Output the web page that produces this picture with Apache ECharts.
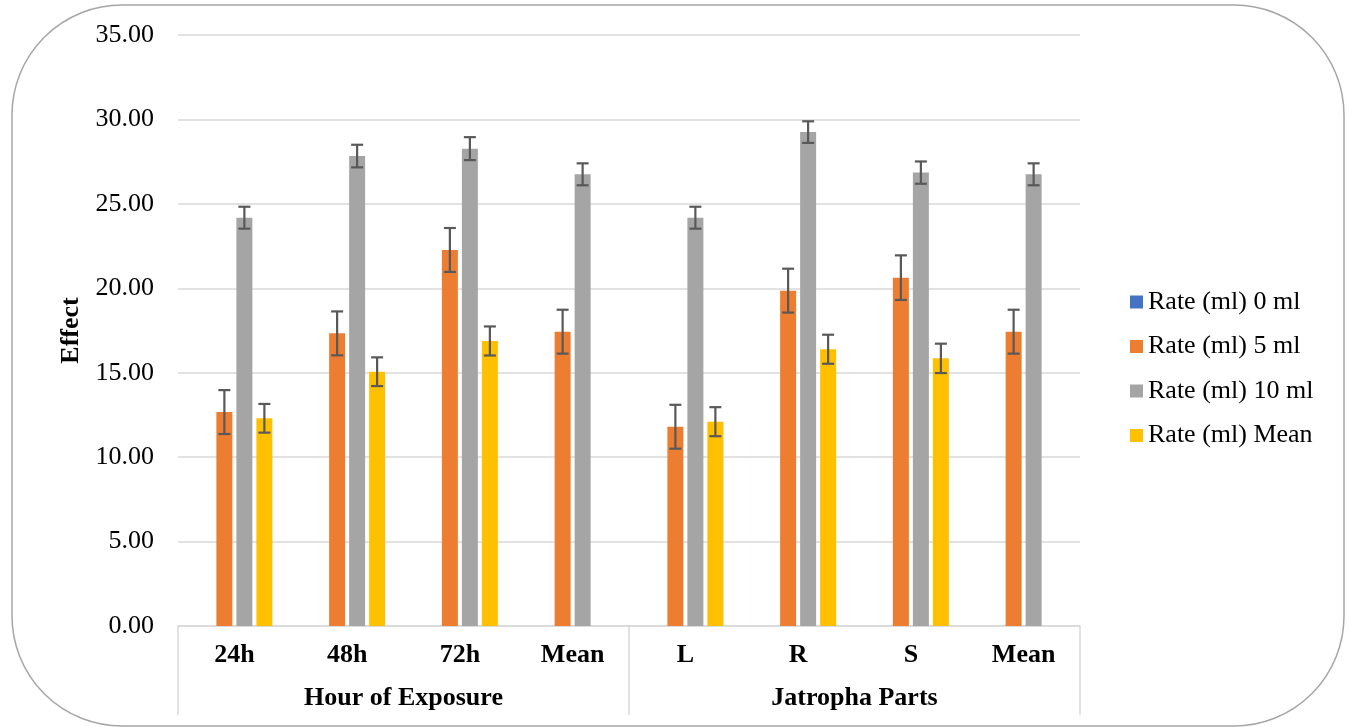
<!DOCTYPE html>
<html>
<head>
<meta charset="utf-8">
<script src="https://cdn.jsdelivr.net/npm/echarts@6/dist/echarts.min.js"></script>
<style>
html,body{margin:0;padding:0;background:#fff;}
#chart{width:1349px;height:727px;}
</style>
</head>
<body>
<div id="chart"></div>
<script>
const categories = ['24h','48h','72h','Mean','L','R','S','Mean'];
const groupLabels = ['Hour of Exposure','Jatropha Parts'];
const seriesNames = ['Rate (ml) 0 ml','Rate (ml) 5 ml','Rate (ml) 10 ml','Rate (ml) Mean'];
const rate0 = [0,0,0,0,0,0,0,0];
const rate5 = [12.67,17.33,22.27,17.43,11.80,19.86,20.63,17.43];
const rate10 = [24.18,27.83,28.27,26.75,24.18,29.25,26.85,26.75];
const rateMean = [12.30,15.06,16.88,null,12.10,16.39,15.85,null];
const err5 = [1.3,1.3,1.3,1.3,1.3,1.3,1.32,1.3];
const err10 = [0.65,0.67,0.68,0.65,0.65,0.64,0.66,0.65];
const errMean = [0.85,0.85,0.86,null,0.86,0.86,0.87,null];
const yTicks = [0,5,10,15,20,25,30,35];

const colors = ['#4472C4','#ED7D31','#A5A5A5','#FFC000'];
const FONT = '"Liberation Serif","Times New Roman",serif';
const BAR_W = 16, BAR_GAP = 4;

function errSeries(vals, errs, seriesIdx){
  const data = vals.map((v,i)=> v==null ? null : [i, v, errs[i]]).filter(d=>d);
  return {
    type:'custom',
    xAxisIndex:0, yAxisIndex:0,
    silent:true, z:10,
    data: data,
    encode:{x:0,y:1},
    renderItem: function(params, api){
      const i = api.value(0), v = api.value(1), e = api.value(2);
      const c = api.coord([i, v]);
      const total = 4*BAR_W + 3*BAR_GAP;
      const x = c[0] - total/2 + seriesIdx*(BAR_W+BAR_GAP) + BAR_W/2;
      const top = api.coord([i, v+e])[1];
      const bot = api.coord([i, v-e])[1];
      const hw = 6;
      const st = {stroke:'#595959', lineWidth:2.2};
      return {type:'group', children:[
        {type:'line', shape:{x1:x,y1:top,x2:x,y2:bot}, style:st},
        {type:'line', shape:{x1:x-hw,y1:top,x2:x+hw,y2:top}, style:st},
        {type:'line', shape:{x1:x-hw,y1:bot,x2:x+hw,y2:bot}, style:st}
      ]};
    }
  };
}

const chart = echarts.init(document.getElementById('chart'));
const option = {
  backgroundColor:'#fff',
  animation:false,
  color: colors,
  textStyle:{fontFamily:FONT},
  graphic:[{
    type:'rect', z:-1,
    shape:{x:12,y:5,width:1332,height:721,r:110},
    style:{fill:'#fff', stroke:'#a6a6a6', lineWidth:1.5}
  }],
  grid:{left:178, right:269, top:35, bottom:101, containLabel:false},
  legend:{
    orient:'vertical', left:1125, top:284,
    itemWidth:13, itemHeight:13, itemGap:18.5,
    icon:'rect',
    data: seriesNames,
    textStyle:{fontFamily:FONT, fontSize:26, color:'#000', lineHeight:26}
  },
  xAxis:[{
    type:'category', data:categories, position:'bottom',
    axisLine:{show:true, lineStyle:{color:'#d9d9d9', width:1.5}},
    axisTick:{show:false},
    axisLabel:{margin:16, fontFamily:FONT, fontSize:26, fontWeight:'bold', color:'#000'},
    splitLine:{show:false}
  },{
    type:'category', data:groupLabels, position:'bottom',
    axisLine:{show:false},
    axisTick:{show:true, length:89, interval:0, lineStyle:{color:'#d9d9d9', width:1.5}},
    axisLabel:{margin:59, fontFamily:FONT, fontSize:26, fontWeight:'bold', color:'#000'},
    splitLine:{show:false}
  }],
  yAxis:{
    type:'value', min:0, max:35, interval:5,
    name:'Effect', nameLocation:'middle', nameGap:94, nameRotate:90,
    nameTextStyle:{fontFamily:FONT, fontSize:26, fontWeight:'bold', color:'#000'},
    axisLine:{show:false}, axisTick:{show:false},
    axisLabel:{margin:24, fontFamily:FONT, fontSize:26, color:'#000',
      formatter:v=> yTicks.indexOf(v)>=0 ? v.toFixed(2) : ''},
    splitLine:{lineStyle:{color:'#d9d9d9', width:1.5}}
  },
  series:[
    {name:seriesNames[0], type:'bar', data:rate0, barWidth:BAR_W, barGap:'25%', itemStyle:{color:colors[0]}},
    {name:seriesNames[1], type:'bar', data:rate5, barWidth:BAR_W, barGap:'25%', itemStyle:{color:colors[1]}},
    {name:seriesNames[2], type:'bar', data:rate10, barWidth:BAR_W, barGap:'25%', itemStyle:{color:colors[2]}},
    {name:seriesNames[3], type:'bar', data:rateMean, barWidth:BAR_W, barGap:'25%', itemStyle:{color:colors[3]}},
    errSeries(rate5, err5, 1),
    errSeries(rate10, err10, 2),
    errSeries(rateMean, errMean, 3)
  ]
};
chart.setOption(option);
</script>
</body>
</html>
